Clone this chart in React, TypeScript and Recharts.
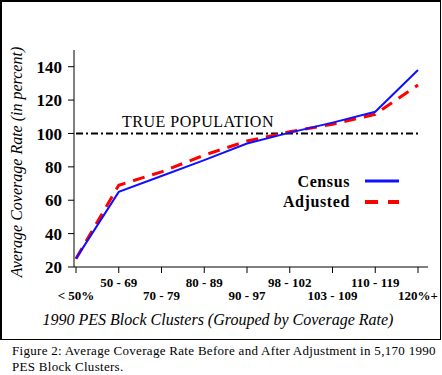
import React from 'react';
import {
  LineChart,
  Line,
  XAxis,
  YAxis,
  ReferenceLine
} from 'recharts';

const categories = ['< 50%', '50 - 69', '70 - 79', '80 - 89', '90 - 97', '98 - 102', '103 - 109', '110 - 119', '120%+'];
const censusRates = [25, 65, 74.5, 84, 94, 100.5, 106.5, 113, 138];
const adjustedRates = [25, 69, 77, 87, 95.5, 101, 105.5, 111.5, 129];
const yTicks = [20, 40, 60, 80, 100, 120, 140];
const truePopulation = 100;

const SERIF = '"Liberation Serif", "Times New Roman", serif';

const data = categories.map((range, i) => ({
  range,
  census: censusRates[i],
  adjusted: adjustedRates[i]
}));

const XTick = (props: any) => {
  const { x, y, payload, index } = props;
  const dy = index % 2 === 1 ? 12 : 25;
  return (
    <text x={x} y={y + dy} textAnchor="middle" style={{ fontFamily: SERIF, fontWeight: 'bold', fontSize: 13 }} fill="#000">
      {payload.value}
    </text>
  );
};

const YTick = (props: any) => {
  const { x, y, payload } = props;
  return (
    <text x={x} y={y} dy="0.36em" textAnchor="end" style={{ fontFamily: SERIF, fontWeight: 'bold', fontSize: 17 }} fill="#000">
      {payload.value}
    </text>
  );
};

// legend drawn by hand so it does not eat into the plot area
const KeyBox = () => (
  <svg width={160} height={44} style={{ position: 'absolute', left: 260, top: 168 }}>
    <text x={90} y={19} textAnchor="end" style={{ fontFamily: SERIF, fontWeight: 'bold', fontSize: 16, letterSpacing: 0.6 }}>Census</text>
    <line x1={105} x2={139} y1={13} y2={13} stroke="#1010ff" strokeWidth={3} />
    <text x={90} y={39} textAnchor="end" style={{ fontFamily: SERIF, fontWeight: 'bold', fontSize: 16, letterSpacing: 0.6 }}>Adjusted</text>
    <line x1={105} x2={139} y1={34} y2={34} stroke="#ff0000" strokeWidth={4} strokeDasharray="13 10" />
  </svg>
);

export default function App() {
  return (
    <div style={{ position: 'absolute', left: 0, top: 0, width: 442, height: 375, background: '#fff' }}>
      <div
        style={{
          position: 'absolute',
          left: 0,
          top: 0,
          width: 441,
          height: 340,
          boxSizing: 'border-box',
          borderLeft: '2px solid #000',
          borderTop: '2px solid #000',
          borderRight: '1px solid #000',
          borderBottom: '1px solid #000'
        }}
      />
      <div style={{ position: 'absolute', left: 0, top: 0 }}>
        <LineChart width={442} height={340} data={data} margin={{ top: 50, right: 14, bottom: 33, left: 0 }}>
          <XAxis
            dataKey="range"
            interval={0}
            height={40}
            padding={{ left: 2, right: 10 }}
            tick={<XTick />}
            tickSize={6}
            tickMargin={2}
            axisLine={{ stroke: '#000' }}
            tickLine={{ stroke: '#000' }}
          />
          <YAxis
            type="number"
            domain={[20, 150]}
            ticks={yTicks}
            width={74}
            tick={<YTick />}
            tickSize={6}
            tickMargin={6}
            axisLine={{ stroke: '#000' }}
            tickLine={{ stroke: '#000' }}
            label={{
              content: () => (
                <text
                  x={22}
                  y={162}
                  transform="rotate(-90 22 162)"
                  textAnchor="middle"
                  style={{ fontFamily: SERIF, fontStyle: 'italic', fontSize: 16 }}
                  fill="#000"
                >
                  Average Coverage Rate (in percent)
                </text>
              )
            }}
          />
          <ReferenceLine
            segment={[
              { x: categories[0], y: truePopulation },
              { x: categories[categories.length - 1], y: truePopulation }
            ]}
            stroke="#000"
            strokeWidth={2}
            strokeDasharray="7 3 2 3"
            label={{
              content: (p: any) => (
                <text
                  x={(p.viewBox?.x ?? 76) + 46}
                  y={(p.viewBox?.y ?? 134) - 6}
                  style={{ fontFamily: SERIF, fontSize: 16, letterSpacing: 0.5 }}
                  fill="#000"
                >
                  TRUE POPULATION
                </text>
              )
            }}
          />
          <Line
            type="linear"
            dataKey="adjusted"
            name="Adjusted"
            stroke="#ff0000"
            strokeWidth={3}
            strokeDasharray="12 8"
            dot={false}
            isAnimationActive={false}
          />
          <Line
            type="linear"
            dataKey="census"
            name="Census"
            stroke="#1010ff"
            strokeWidth={2}
            dot={false}
            isAnimationActive={false}
          />
        </LineChart>
      </div>
      <KeyBox />
      <div
        style={{
          position: 'absolute',
          left: 0,
          width: 442,
          top: 310,
          textAlign: 'center',
          fontFamily: SERIF,
          fontStyle: 'italic',
          fontSize: 16,
          lineHeight: '20px'
        }}
      >
        <span style={{ position: 'relative', left: -3 }}>1990 PES Block Clusters (Grouped by Coverage Rate)</span>
      </div>
      <div
        style={{
          position: 'absolute',
          left: 12,
          top: 343,
          width: 430,
          whiteSpace: 'nowrap',
          fontFamily: SERIF,
          fontSize: 13,
          lineHeight: '16px',
          letterSpacing: 0.3,
          color: '#000'
        }}
      >
        Figure 2: Average Coverage Rate Before and After Adjustment in 5,170 1990
        <br />
        PES Block Clusters.
      </div>
    </div>
  );
}
